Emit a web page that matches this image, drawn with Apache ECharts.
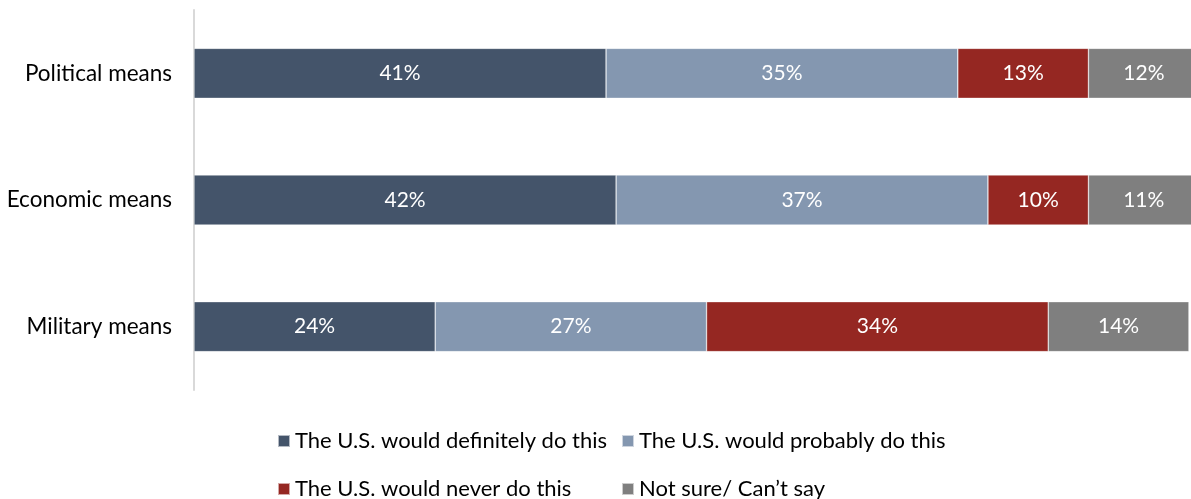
<!DOCTYPE html>
<html>
<head>
<meta charset="utf-8">
<script src="https://cdn.jsdelivr.net/npm/echarts@6/dist/echarts.min.js"></script>
<style>
  html, body { margin: 0; padding: 0; background: #ffffff; }
  #chart { width: 1191px; height: 499px; }
</style>
</head>
<body>
<div id="chart"></div>
<script>
// Survey answers by type of means (percent of respondents)
const categories = ['Political means', 'Economic means', 'Military means'];
const seriesNames = [
  'The U.S. would definitely do this',
  'The U.S. would probably do this',
  'The U.S. would never do this',
  'Not sure/ Can\u2019t say'
];
const definitely = [41, 42, 24];
const probably = [35, 37, 27];
const never = [13, 10, 34];
const notSure = [12, 11, 14];
const colors = ['#44546A', '#8497B0', '#952722', '#7F7F7F'];

const values = [definitely, probably, never, notSure];
const font = 'Lato, "Open Sans", sans-serif';

const chart = echarts.init(document.getElementById('chart'));

const series = values.map((vals, i) => ({
  name: seriesNames[i],
  type: 'bar',
  stack: 'total',
  barWidth: 50,
  data: vals,
  itemStyle: { color: colors[i], borderColor: 'rgba(255,255,255,0.6)', borderWidth: 0.6 },
  label: {
    show: true,
    position: 'inside',
    formatter: '{c}%',
    color: '#ffffff',
    fontFamily: font,
    fontSize: 21
  },
  emphasis: { disabled: true }
}));

// Legend laid out as a two-column grid, one entry per cell
const legendCells = [
  { left: 277, top: 430 },
  { left: 621, top: 430 },
  { left: 277, top: 478 },
  { left: 621, top: 478 }
];
const legend = seriesNames.map((name, i) => ({
  data: [name],
  left: legendCells[i].left,
  top: legendCells[i].top,
  padding: 0,
  itemWidth: 12,
  itemHeight: 12,
  icon: 'rect',
  selectedMode: false,
  textStyle: { fontFamily: font, fontSize: 22, color: '#000000', padding: [0, 0, 0, 0] }
}));

chart.setOption({
  animation: false,
  legend: legend,
  grid: { left: 194, top: 10, width: 1005, height: 380, containLabel: false, outerBoundsMode: 'none' },
  xAxis: {
    type: 'value',
    min: 0,
    max: 100,
    show: false
  },
  yAxis: {
    type: 'category',
    data: categories,
    inverse: true,
    axisLine: { show: true, lineStyle: { color: '#D9D9D9', width: 2 } },
    axisTick: { show: false },
    axisLabel: { color: '#000000', fontFamily: font, fontSize: 22.5, margin: 22 }
  },
  series: series
});
</script>
</body>
</html>
